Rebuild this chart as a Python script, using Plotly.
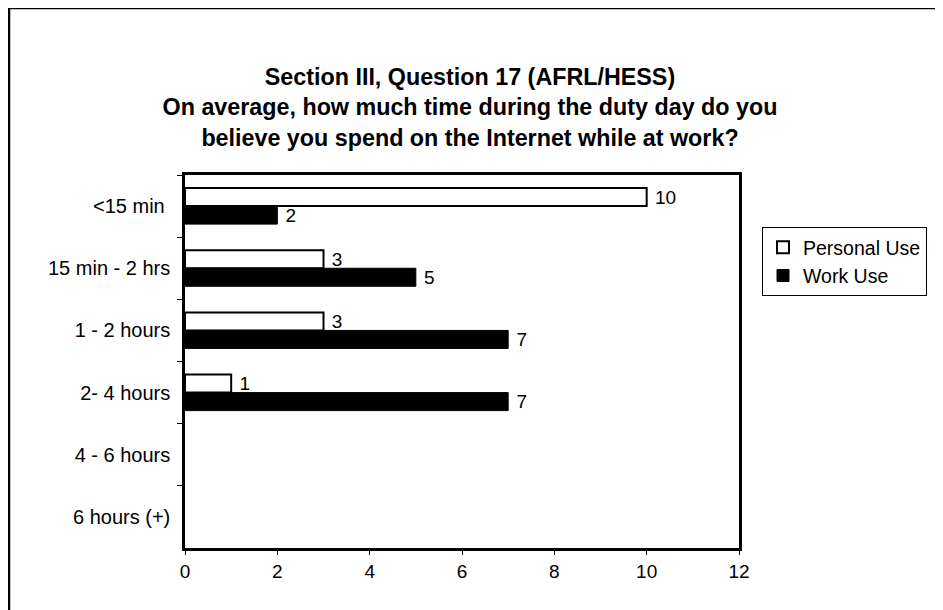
import plotly.graph_objects as go

categories = ["<15 min ", "15 min - 2 hrs", "1 - 2 hours", "2- 4 hours", "4 - 6 hours", "6 hours (+)"]
personal_use = [10, 3, 3, 1, 0, 0]
work_use = [2, 5, 7, 7, 0, 0]
x_ticks = [0, 2, 4, 6, 8, 10, 12]
title_lines = [
    "Section III, Question 17 (AFRL/HESS)",
    "On average, how much time during the duty day do you",
    "believe you spend on the Internet while at work?",
]

# page body has an 8px margin; size the figure so it fills the 943x610 window
OFF = 8
W, H = 943 - OFF, 610 - OFF
L, R, T, B = 185 - OFF, 739 - OFF, 175 - OFF, 548 - OFF

def px_x(px):  # px in screen coordinates
    return (px - OFF - L) / (R - L)

def px_y(py):
    return (B - (py - OFF)) / (B - T)

FONT = "Liberation Sans, Arial, sans-serif"

def lbl(vals):
    return ["\u00a0" + str(v) if v else "" for v in vals]

fig = go.Figure()
fig.add_trace(go.Bar(
    name="Personal Use", y=categories, x=personal_use, orientation="h",
    marker=dict(color="white",
                line=dict(color="black", width=[2 if v else 0 for v in personal_use])),
    text=lbl(personal_use), textposition="outside", constraintext="none",
    textfont=dict(family=FONT, size=19, color="black"), cliponaxis=False,
))
fig.add_trace(go.Bar(
    name="Work Use", y=categories, x=work_use, orientation="h",
    marker=dict(color="black",
                line=dict(color="black", width=[1 if v else 0 for v in work_use])),
    text=lbl(work_use), textposition="outside", constraintext="none",
    textfont=dict(family=FONT, size=19, color="black"), cliponaxis=False,
))

fig.update_layout(
    width=W, height=H,
    margin=dict(l=L, r=W - R, t=T, b=H - B),
    paper_bgcolor="white", plot_bgcolor="white",
    barmode="group", bargap=0.42, bargroupgap=0,
    font=dict(family=FONT, size=19, color="black"),
    title=dict(
        text="<br>".join(title_lines),
        x=(470 - OFF) / W, xanchor="center", xref="container",
        y=1 - 77 / H, yanchor="top", yref="container",
        font=dict(family=FONT, size=23.3, color="black", weight="bold"),
    ),
    legend=dict(
        x=px_x(762), y=px_y(227), xanchor="left", yanchor="top",
        bordercolor="black", borderwidth=1, bgcolor="white",
        font=dict(family=FONT, size=19.5, color="black"),
        itemwidth=30, tracegroupgap=0,
    ),
    xaxis=dict(
        range=[0, 12], tickvals=x_ticks, ticktext=[str(v) for v in x_ticks],
        showgrid=False, zeroline=False,
        showline=True, linecolor="black", linewidth=2.5, mirror=True,
        ticks="outside", ticklen=4, tickcolor="black", tickwidth=1,
        tickfont=dict(family=FONT, size=19, color="black"),
    ),
    yaxis=dict(
        autorange="reversed", showgrid=False, zeroline=False,
        showline=True, linecolor="black", linewidth=2.5, mirror=True,
        ticks="outside", ticklen=5, tickcolor="black", tickwidth=1,
        tickson="boundaries", ticklabelstandoff=8,
        tickfont=dict(family=FONT, size=20, color="black"),
    ),
    shapes=[
        dict(type="rect", xref="paper", yref="paper",
             x0=px_x(9), x1=px_x(1100), y0=px_y(800), y1=px_y(8),
             line=dict(color="black", width=2.5), fillcolor="rgba(0,0,0,0)",
             layer="below"),
    ],
)

fig.write_html("out.html")
